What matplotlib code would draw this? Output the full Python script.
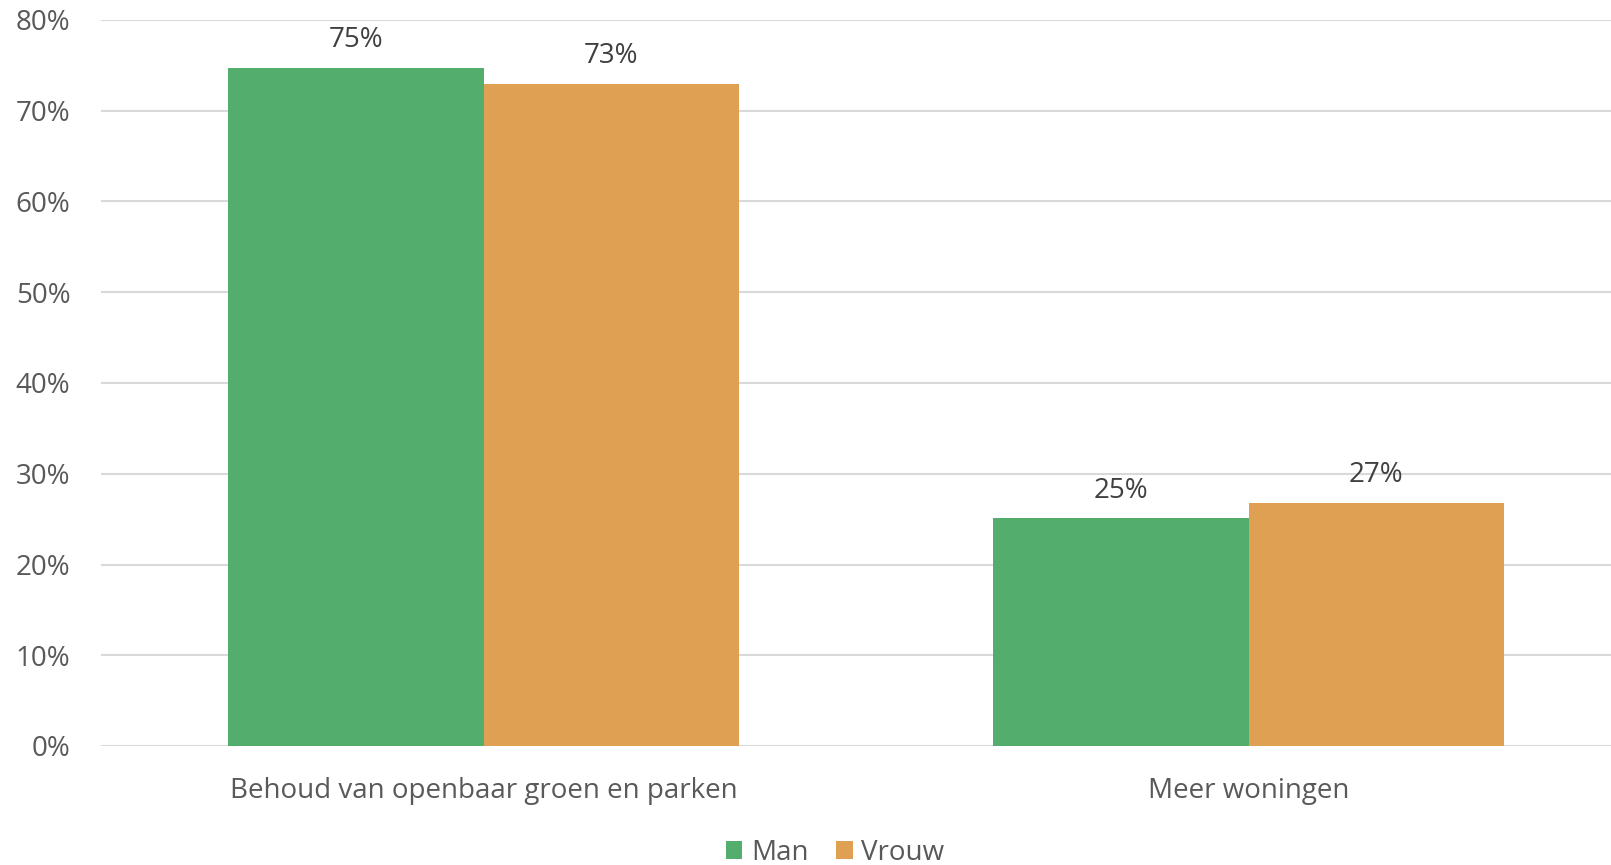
import matplotlib.pyplot as plt
import numpy as np

plt.rcParams['font.family'] = ['Open Sans', 'DejaVu Sans']

categories = ["Behoud van openbaar groen en parken", "Meer woningen"]
man = [74.7, 25.1]
vrouw = [73.0, 26.8]
series_names = ["Man", "Vrouw"]
yticks = [0, 10, 20, 30, 40, 50, 60, 70, 80]

green = "#53AD6D"
orange = "#E0A053"

fig = plt.figure(figsize=(16.11, 8.65), dpi=100)
# axes runs slightly past the right edge, as in the reference
ax = fig.add_axes([101 / 1611, 1 - 746 / 865, 1530 / 1611, 726 / 865])

x = np.arange(len(categories))
w = 0.334
b1 = ax.bar(x - w / 2, man, w, color=green, label=series_names[0], zorder=3)
b2 = ax.bar(x + w / 2, vrouw, w, color=orange, label=series_names[1], zorder=3)

for bars, vals in [(b1, man), (b2, vrouw)]:
    for r, v in zip(bars, vals):
        ax.text(r.get_x() + r.get_width() / 2, v + 1.5, f"{round(v)}%",
                ha="center", va="bottom", fontsize=20, color="#404040")

ax.set_xlim(-0.5, 1.5)
ax.set_ylim(0, 80)
ax.set_yticks(yticks)
ax.set_yticklabels([f"{t}%" for t in yticks], fontsize=20, color="#595959")
ax.set_xticks(x)
ax.set_xticklabels(categories, fontsize=20, color="#595959")
ax.tick_params(axis="both", length=0)
ax.tick_params(axis="y", pad=22)
ax.tick_params(axis="x", pad=22.5)
ax.grid(axis="y", color="#D9D9D9", linewidth=1.5, zorder=0)
for s in ax.spines.values():
    s.set_visible(False)

fig.legend(handles=[b1, b2], labels=series_names, loc="center",
           bbox_to_anchor=(835 / 1611, 1 - 853 / 865), ncol=2, frameon=False,
           fontsize=20, labelcolor="#595959", handlelength=0.6, handleheight=0.6,
           handletextpad=0.3, columnspacing=1.0)

fig.savefig("out.png", dpi=100)
